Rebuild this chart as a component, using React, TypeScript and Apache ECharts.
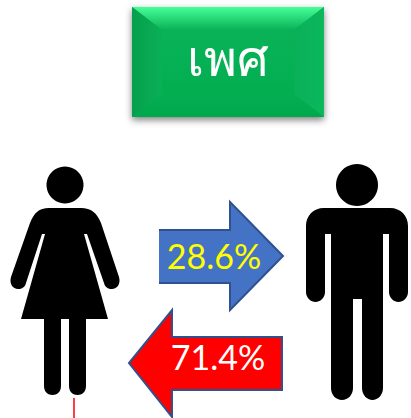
import React, { useEffect, useRef } from "react";
import * as echarts from "echarts";

const titleText = "เพศ";
const shares = ["28.6%", "71.4%"];

const womanBody =
  "M49 208 L81 208 C91 208 97 213 101 223 L119 277 C121 284 117 289 112 289 C108 289 105 287 104 283 L87 234 L84 234 L108 319 L86 319 L86 386 C86 392 82 395 77.5 395 C73 395 69 392 69 386 L69 319 L61 319 L61 386 C61 392 57 395 52.5 395 C48 395 44 392 44 386 L44 319 L21 319 L45 234 L42 234 L26 283 C25 287 22 289 18 289 C13 289 9 284 11 277 L30 223 C34 213 39 208 49 208 Z";
const manBody =
  "M324 208 L390 208 C401 208 408 216 408 226 L408 292 C408 298 403 302 398.500 302 C394 302 389 298 389 292 L389 234 L383 234 L383 388 C383 395 378 400 372.500 400 C367 400 362 395 362 388 L362 299 L353 299 L353 388 C353 395 348 400 342 400 C336 400 331 395 331 388 L331 234 L325 234 L325 292 C325 298 320 302 315.500 302 C311 302 306 298 306 292 L306 226 C306 216 313 208 324 208 Z";

echarts.graphic.registerShape("womanBody", echarts.graphic.extendPath(womanBody, {}));
echarts.graphic.registerShape("manBody", echarts.graphic.extendPath(manBody, {}));

const vGrad = (top: string, bottom: string) => ({
  type: "linear", x: 0, y: 0, x2: 0, y2: 1,
  colorStops: [{ offset: 0, color: top }, { offset: 1, color: bottom }],
});
const hGrad = (left: string, right: string) => ({
  type: "linear", x: 0, y: 0, x2: 1, y2: 0,
  colorStops: [{ offset: 0, color: left }, { offset: 1, color: right }],
});

export default function App() {
  const ref = useRef<HTMLDivElement>(null);
  useEffect(() => {
    const chart = echarts.init(ref.current!, undefined, { renderer: "svg" });
    const L = 132, R = 324, T = 7, B = 117, dx = 30, dy = 23;
    chart.setOption({
      animation: false,
      backgroundColor: "#ffffff",
      graphic: [
        {
          type: "rect", shape: { x: L, y: T, width: R - L, height: B - T },
          style: { fill: "#00ad50", shadowBlur: 7, shadowColor: "rgba(0,0,0,0.5)", shadowOffsetY: 3 },
        },
        {
          type: "rect", shape: { x: L, y: T, width: R - L, height: B - T },
          style: { fill: vGrad("#0cb45a", "#00ac4e") },
        },
        {
          type: "polygon",
          shape: { points: [[L, T], [R, T], [R - dx, T + dy], [L + dx, T + dy]] },
          style: { fill: vGrad("#44ff96", "#0ab158") },
        },
        {
          type: "polygon",
          shape: { points: [[L, T], [L + dx, T + dy], [L + dx, B - dy], [L, B]] },
          style: { fill: hGrad("#069f4b", "#0ab058") },
        },
        {
          type: "polygon",
          shape: { points: [[R, T], [R, B], [R - dx, B - dy], [R - dx, T + dy]] },
          style: { fill: hGrad("#0ab058", "#0bb85c") },
        },
        {
          type: "polygon",
          shape: { points: [[L, B], [L + dx, B - dy], [R - dx, B - dy], [R, B]] },
          style: { fill: vGrad("#06ae53", "#00a84c") },
        },
        {
          type: "text", x: 228, y: 57,
          style: {
            text: titleText, fill: "#ffffff", font: '50px "Noto Sans", "DejaVu Sans", sans-serif',
            textAlign: "center", textVerticalAlign: "middle",
          },
        },
        { type: "circle", shape: { cx: 65, cy: 185, r: 18.5 }, style: { fill: "#000000" } },
        { type: "womanBody", style: { fill: "#000000" } },
        { type: "circle", shape: { cx: 357, cy: 185, r: 21 }, style: { fill: "#000000" } },
        { type: "manBody", style: { fill: "#000000" } },
        {
          type: "polygon",
          shape: { points: [[159, 230], [230, 230], [230, 202], [283, 256], [230, 310], [230, 283], [159, 283]] },
          style: { fill: "#4472c4" },
        },
        {
          type: "polyline",
          shape: { points: [[159, 230], [230, 230], [230, 202], [283, 256], [230, 310], [230, 283], [159, 283]] },
          style: { fill: "none", stroke: "#2f528f", lineWidth: 2 },
        },
        {
          type: "text", x: 214, y: 255,
          style: {
            text: shares[0], fill: "#ffff00", font: '34px Lato, "Noto Sans", sans-serif',
            textAlign: "center", textVerticalAlign: "middle",
          },
        },
        {
          type: "polygon",
          shape: { points: [[282, 337], [172, 337], [172, 310], [129, 363], [172, 417], [172, 390], [282, 390]] },
          style: { fill: "#ff0000", stroke: "#2f528f", lineWidth: 2 },
        },
        {
          type: "text", x: 218, y: 356,
          style: {
            text: shares[1], fill: "#ffffff", font: '34px Lato, "Noto Sans", sans-serif',
            textAlign: "center", textVerticalAlign: "middle",
          },
        },
        { type: "line", shape: { x1: 74, y1: 398, x2: 74, y2: 418 }, style: { stroke: "#ff0000", lineWidth: 1.5 } },
      ],
    });
    return () => chart.dispose();
  }, []);
  return <div ref={ref} style={{ position: "absolute", left: 0, top: 0, width: 411, height: 418 }} />;
}
